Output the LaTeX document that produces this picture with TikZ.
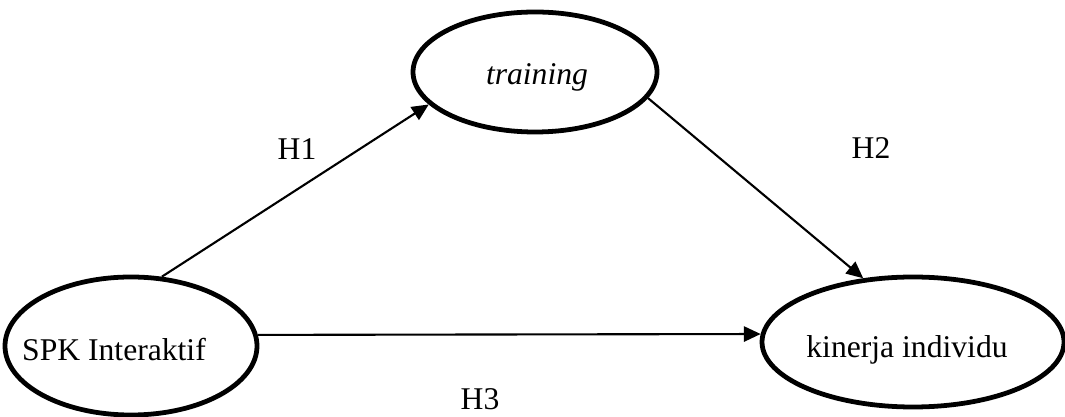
\documentclass[tikz,border=0pt]{standalone}
\usepackage{fontspec}
\setmainfont{Liberation Serif}
\usetikzlibrary{arrows.meta,shapes.geometric}

\begin{document}
\begin{tikzpicture}[x=1cm,y=1cm,
  var/.style={ellipse,draw,line width=3.4pt,inner sep=0pt},
  path/.style={line width=1.5pt,-{Triangle[length=0.42cm,width=0.38cm]}},
  font=\fontsize{22.5}{26}\selectfont]
  \useasboundingbox (0,0) rectangle (26.625,10.425);
  \node[var,minimum width=6.1cm,minimum height=3cm] (training) at (13.375,8.625){};
  \node (traininglabel) at (13.425,8.5){\itshape training};
  \node[var,minimum width=6.3cm,minimum height=3.45cm] (spk) at (3.275,1.775){};
  \node (spklabel) at (2.85,1.675){SPK Interaktif};
  \node[var,minimum width=7.55cm,minimum height=3.25cm] (kinerja) at (22.825,1.875){};
  \node (kinerjalabel) at (22.675,1.675){kinerja individu};
  \draw[path] (spk.66) -- (training.197);
  \draw[path] (training.-13) -- (kinerja.128);
  \draw[path] (spk.5) -- (kinerja.177);
  \node (h1) at (7.425,6.7){H1};
  \node (h2) at (21.775,6.725){H2};
  \node (h3) at (12.0,0.45){H3};
\end{tikzpicture}
\end{document}
